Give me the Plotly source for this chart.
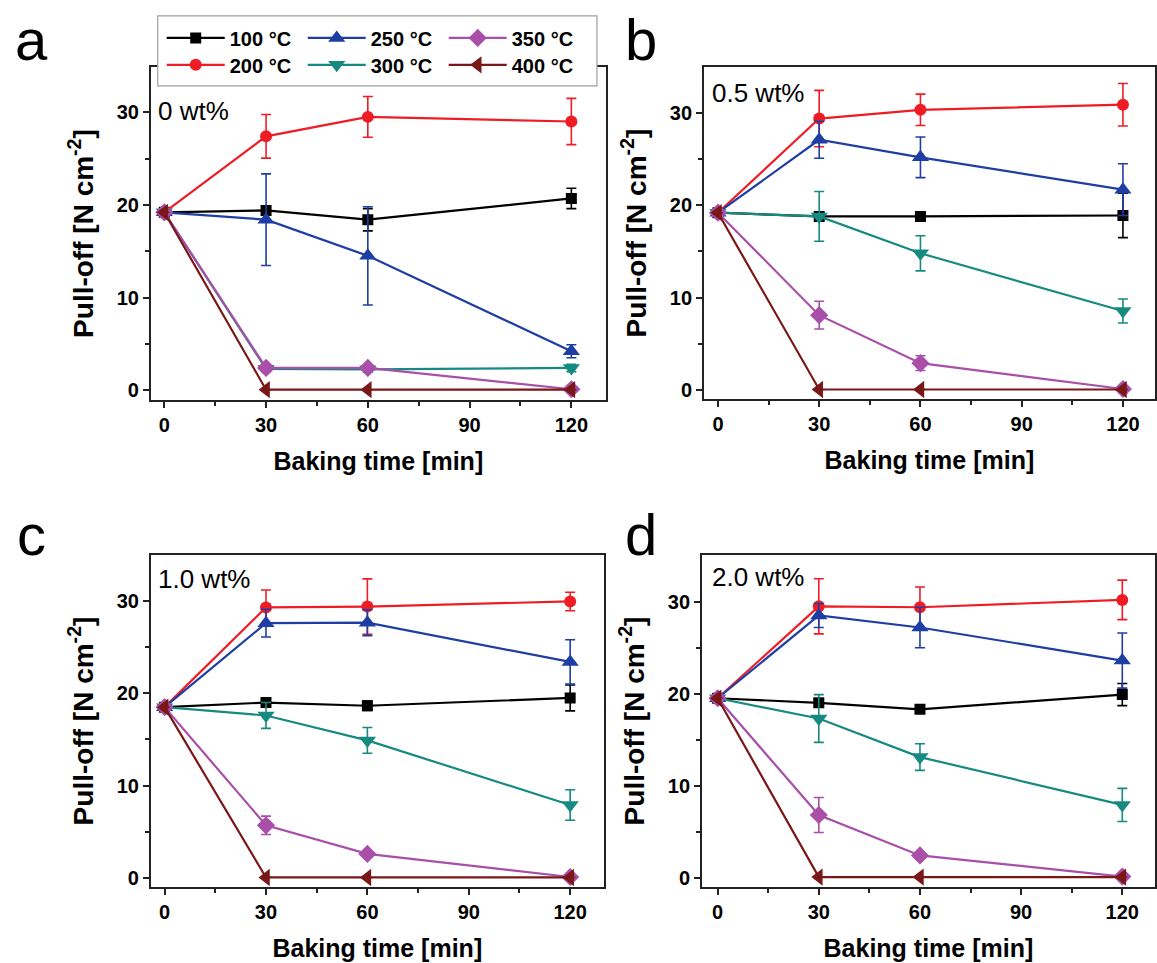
import plotly.graph_objects as go

# ---------------- data ----------------
times = [0, 30, 60, 120]
temperatures = ["100 °C", "200 °C", "250 °C", "300 °C", "350 °C", "400 °C"]
colors = ["#000000", "#EE1C25", "#1F3EA3", "#168A80", "#A94FA9", "#7A1717"]
symbols = ["square", "circle", "triangle-up", "triangle-down", "diamond", "triangle-left"]
marker_sizes = [11, 12, 15, 15, 14, 15]
legend_groups = ["legend", "legend2", "legend", "legend2", "legend", "legend2"]

# 0 wt%
a_100 = [19.2, 19.4, 18.4, 20.7];  a_100_err = [0, 0.3, 1.2, 1.1]
a_200 = [19.2, 27.4, 29.5, 29.0];  a_200_err = [0, 2.35, 2.2, 2.5]
a_250 = [19.2, 18.4, 14.5, 4.2];   a_250_err = [0, 4.95, 5.3, 0.7]
a_300 = [19.2, 2.3, 2.25, 2.4];    a_300_err = [0, 0.3, 0.3, 0.4]
a_350 = [19.2, 2.4, 2.4, 0.1];     a_350_err = [0, 0.2, 0.2, 0.1]
a_400 = [19.2, 0.05, 0.05, 0.05];  a_400_err = [0, 0, 0, 0]

# 0.5 wt%
b_100 = [19.2, 18.8, 18.8, 18.9];  b_100_err = [0, 0.3, 0.3, 2.4]
b_200 = [19.2, 29.4, 30.35, 30.9]; b_200_err = [0, 3.05, 1.7, 2.3]
b_250 = [19.2, 27.1, 25.2, 21.7];  b_250_err = [0, 2.0, 2.2, 2.8]
b_300 = [19.2, 18.8, 14.8, 8.55];  b_300_err = [0, 2.7, 1.9, 1.3]
b_350 = [19.2, 8.1, 2.9, 0.1];     b_350_err = [0, 1.5, 0.8, 0.1]
b_400 = [19.2, 0.05, 0.05, 0.05];  b_400_err = [0, 0, 0, 0]

# 1.0 wt%
c_100 = [18.5, 19.0, 18.65, 19.5]; c_100_err = [0, 0.4, 0.5, 1.4]
c_200 = [18.5, 29.3, 29.4, 29.95]; c_200_err = [0, 1.9, 3.0, 1.0]
c_250 = [18.5, 27.6, 27.65, 23.4]; c_250_err = [0, 1.5, 1.4, 2.4]
c_300 = [18.5, 17.6, 14.9, 7.9];   c_300_err = [0, 1.4, 1.4, 1.65]
c_350 = [18.5, 5.7, 2.6, 0.1];     c_350_err = [0, 1.0, 0.3, 0.1]
c_400 = [18.5, 0.05, 0.05, 0.05];  c_400_err = [0, 0, 0, 0]

# 2.0 wt%
d_100 = [19.5, 19.0, 18.3, 19.9];  d_100_err = [0, 0.4, 0.3, 1.2]
d_200 = [19.5, 29.5, 29.4, 30.2];  d_200_err = [0, 3.0, 2.2, 2.15]
d_250 = [19.5, 28.5, 27.2, 23.6];  d_250_err = [0, 1.3, 2.2, 3.0]
d_300 = [19.5, 17.3, 13.1, 7.9];   d_300_err = [0, 2.6, 1.45, 1.8]
d_350 = [19.5, 6.8, 2.4, 0.1];     d_350_err = [0, 1.9, 0.3, 0.1]
d_400 = [19.5, 0.05, 0.05, 0.05];  d_400_err = [0, 0, 0, 0]

panel_means = [[a_100, a_200, a_250, a_300, a_350, a_400],
               [b_100, b_200, b_250, b_300, b_350, b_400],
               [c_100, c_200, c_250, c_300, c_350, c_400],
               [d_100, d_200, d_250, d_300, d_350, d_400]]
panel_errs = [[a_100_err, a_200_err, a_250_err, a_300_err, a_350_err, a_400_err],
              [b_100_err, b_200_err, b_250_err, b_300_err, b_350_err, b_400_err],
              [c_100_err, c_200_err, c_250_err, c_300_err, c_350_err, c_400_err],
              [d_100_err, d_200_err, d_250_err, d_300_err, d_350_err, d_400_err]]
panel_letters = ["a", "b", "c", "d"]
panel_labels = ["0 wt%", "0.5 wt%", "1.0 wt%", "2.0 wt%"]
x_ticks = [0, 30, 60, 90, 120]
y_ticks = [0, 10, 20, 30]

# ---------------- layout geometry ----------------
W, H = 1157, 963
FONT = "Arial, Liberation Sans, sans-serif"
boxes = [(151, 607, 67, 401), (705, 1157, 67, 400), (151, 605, 556, 889), (703, 1157, 556, 889)]
xranges = [[-4.0, 130.2], [-4.2, 129.5], [-4.1, 130.0], [-4.7, 129.7]]
yranges = [[-1.08, 34.9], [-1.0, 35.0], [-1.0, 35.0], [-1.05, 35.1]]

fig = go.Figure()

for p in range(4):
    xa = "x" if p == 0 else f"x{p+1}"
    ya = "y" if p == 0 else f"y{p+1}"
    for s in range(6):
        fig.add_trace(go.Scatter(
            x=times, y=panel_means[p][s],
            mode="lines+markers",
            name=temperatures[s],
            legend=legend_groups[s],
            showlegend=(p == 0),
            line=dict(color=colors[s], width=2.2),
            marker=dict(symbol=symbols[s], size=marker_sizes[s], color=colors[s]),
            error_y=dict(type="data", array=panel_errs[p][s], visible=True,
                         color=colors[s], thickness=1.6, width=5),
            xaxis=xa, yaxis=ya,
        ))

leg_common = dict(
    orientation="h", xanchor="left", yanchor="middle",
    borderwidth=0, bgcolor="rgba(0,0,0,0)",
    font=dict(size=20, family=FONT, weight="bold", color="black"),
    entrywidth=68, entrywidthmode="pixels",
    itemwidth=58, tracegroupgap=0,
)

layout = dict(
    width=W, height=H,
    margin=dict(l=0, r=0, t=0, b=0),
    paper_bgcolor="white", plot_bgcolor="white",
    font=dict(family=FONT, color="black"),
    legend=dict(x=162 / W, y=1 - 38 / H, **leg_common),
    legend2=dict(x=162 / W, y=1 - 65 / H, **leg_common),
    annotations=[],
    shapes=[dict(type="rect", xref="paper", yref="paper", layer="above",
                 x0=158 / W, x1=598 / W, y0=1 - 86 / H, y1=1 - 16 / H,
                 line=dict(color="#a0a0a0", width=1.2), fillcolor="white")],
)

for p in range(4):
    l, r, t, b = boxes[p]
    xk = "xaxis" if p == 0 else f"xaxis{p+1}"
    yk = "yaxis" if p == 0 else f"yaxis{p+1}"
    anchor_x = "y" if p == 0 else f"y{p+1}"
    anchor_y = "x" if p == 0 else f"x{p+1}"
    layout[xk] = dict(
        domain=[l / W, r / W], anchor=anchor_x, range=xranges[p],
        tickvals=x_ticks, ticks="outside", ticklen=6, tickwidth=1.5, tickcolor="#222",
        minor=dict(tickvals=[15, 45, 75, 105], ticks="outside", ticklen=4, tickwidth=1.5, tickcolor="#222"),
        showline=True, linecolor="#222", linewidth=1.5, mirror=True,
        showgrid=False, zeroline=False,
        tickfont=dict(size=20, family=FONT, weight="bold"),
        title=dict(text="Baking time [min]", font=dict(size=25, family=FONT, weight="bold"), standoff=18),
    )
    layout[yk] = dict(
        domain=[1 - b / H, 1 - t / H], anchor=anchor_y, range=yranges[p],
        tickvals=y_ticks, ticks="outside", ticklen=6, tickwidth=1.5, tickcolor="#222",
        minor=dict(tickvals=[5, 15, 25], ticks="outside", ticklen=4, tickwidth=1.5, tickcolor="#222"),
        showline=True, linecolor="#222", linewidth=1.5, mirror=True,
        showgrid=False, zeroline=False,
        tickfont=dict(size=20, family=FONT, weight="bold"),
        title=dict(text="Pull-off [N cm<sup>-2</sup>]", font=dict(size=28, family=FONT, weight="bold"), standoff=15),
    )
    letter_x = 32 if p in (0, 2) else 642
    letter_y = 40 if p in (0, 1) else 536
    layout["annotations"].append(dict(
        text=panel_letters[p], xref="paper", yref="paper",
        x=letter_x / W, y=1 - letter_y / H, xanchor="center", yanchor="middle",
        showarrow=False, font=dict(size=58, family=FONT, color="black"),
    ))
    lab_pos = [(156, 111), (711, 93), (156, 580), (711, 578)][p]
    layout["annotations"].append(dict(
        text=panel_labels[p], xref="paper", yref="paper",
        x=lab_pos[0] / W, y=1 - lab_pos[1] / H, xanchor="left", yanchor="middle",
        showarrow=False, font=dict(size=26, family=FONT, color="black"),
    ))

fig.update_layout(**layout)
fig.write_html("out.html")
